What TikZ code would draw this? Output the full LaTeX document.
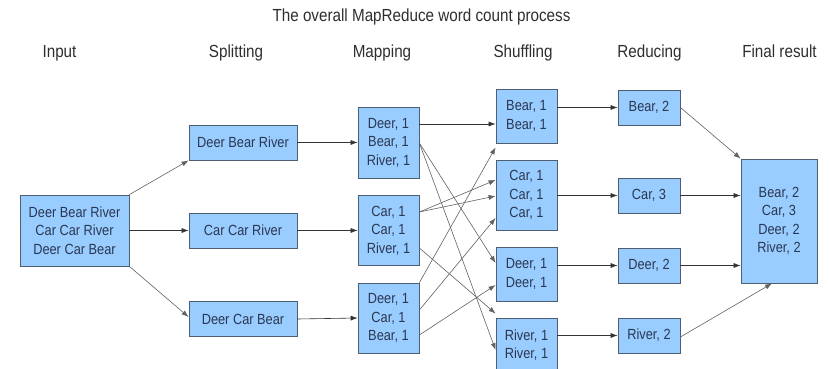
\documentclass[tikz,border=0pt]{standalone}
\usepackage{fontspec}
\setmainfont{Liberation Sans}[FakeStretch=0.87]
\usetikzlibrary{arrows.meta,calc}
\definecolor{boxfill}{HTML}{99CCFF}
\definecolor{boxdraw}{HTML}{4E5F72}
\definecolor{boxtext}{HTML}{2A3752}
\definecolor{headtext}{HTML}{2E2E2E}
\begin{document}
\begin{tikzpicture}[x=1pt,y=-1pt,
  box/.style={draw=boxdraw,fill=boxfill,line width=0.8pt,text=boxtext,align=center,
    inner sep=0pt,font=\fontsize{14.7}{18.5}\selectfont},
  head/.style={anchor=base,text=headtext,inner sep=0pt,font=\fontsize{17.5}{20}\selectfont},
  conn/.style={-{Latex[length=7pt,width=5pt]},line width=0.6pt,draw=black!80},
  diag/.style={conn,draw=black!62}]
\useasboundingbox (0,0) rectangle (829,369);
\node[head] (title) at (421.5,22) {The overall MapReduce word count process};
\node[head] (hin) at (59.5,58) {Input};
\node[head] (hsp) at (236,58) {Splitting};
\node[head] (hmap) at (382,58) {Mapping};
\node[head] (hsh) at (523,58) {Shuffling};
\node[head] (hred) at (649.5,58) {Reducing};
\node[head] (hfin) at (779.5,58) {Final result};
% input
\node[box,minimum width=109pt,minimum height=71pt] (in) at (74.5,230.5) {Deer Bear River\\Car Car River\\Deer Car Bear};
% splitting
\node[box,minimum width=108pt,minimum height=35pt] (s1) at (243,142.5) {Deer Bear River};
\node[box,minimum width=108pt,minimum height=35pt] (s2) at (243,230.5) {Car Car River};
\node[box,minimum width=108pt,minimum height=35pt] (s3) at (243,319) {Deer Car Bear};
% mapping
\node[box,minimum width=61pt,minimum height=71pt] (m1) at (388.5,142.5) {Deer, 1\\Bear, 1\\River, 1};
\node[box,minimum width=61pt,minimum height=70pt] (m2) at (388.5,230.5) {Car, 1\\Car, 1\\River, 1};
\node[box,minimum width=61pt,minimum height=70pt] (m3) at (388.5,318) {Deer, 1\\Car, 1\\Bear, 1};
% shuffling
\node[box,minimum width=61pt,minimum height=54pt] (h1) at (526.5,116) {Bear, 1\\Bear, 1};
\node[box,minimum width=61pt,minimum height=70pt] (h2) at (526.5,195) {Car, 1\\Car, 1\\Car, 1};
\node[box,minimum width=61pt,minimum height=54pt] (h3) at (526.5,274) {Deer, 1\\Deer, 1};
\node[box,minimum width=61pt,minimum height=54pt] (h4) at (526.5,345) {River, 1\\River, 1};
% reducing
\node[box,minimum width=62pt,minimum height=35pt] (r1) at (649,107.5) {Bear, 2};
\node[box,minimum width=62pt,minimum height=35pt] (r2) at (649,195.5) {Car, 3};
\node[box,minimum width=62pt,minimum height=35pt] (r3) at (649,265.5) {Deer, 2};
\node[box,minimum width=62pt,minimum height=35pt] (r4) at (649,335.5) {River, 2};
% final
\node[box,minimum width=76pt,minimum height=124pt] (f) at (779,221) {Bear, 2\\Car, 3\\Deer, 2\\River, 2};
% input -> splitting
\draw[diag] (in.north east) -- (s1.south west);
\draw[conn] (in.east) -- (s2.west);
\draw[diag] (in.south east) -- ([yshift=2pt]s3.west);
% splitting -> mapping
\draw[conn] (s1.east) -- (m1.west);
\draw[conn] (s2.east) -- (m2.west);
\draw[conn] (s3.east) -- (m3.west);
% mapping -> shuffling
\draw[conn] ([yshift=18.5pt]m1.east) -- ([yshift=-8pt]h1.west);
\draw[diag] ([yshift=-0.5pt]m1.east) -- ([yshift=11pt]h3.west);
\draw[diag] ([yshift=-0.5pt]m1.east) -- ([yshift=-5pt]h4.west);
\draw[diag] ([yshift=18.5pt]m2.east) -- ([yshift=15pt]h2.west);
\draw[diag] ([yshift=18.5pt]m2.east) -- ([yshift=-1pt]h2.west);
\draw[diag] ([yshift=-17.5pt]m2.east) -- ([yshift=4pt]h4.north west);
\draw[diag] (m3.north east) -- ([yshift=-4pt]h1.south west);
\draw[diag] ([yshift=8pt]m3.east) -- ([yshift=-23pt]h2.west);
\draw[diag] ([yshift=-17pt]m3.east) -- ([yshift=-11pt]h3.west);
% shuffling -> reducing
\draw[conn] (h1.east |- r1.west) -- (r1.west);
\draw[conn] (h2.east |- r2.west) -- (r2.west);
\draw[conn] (h3.east |- r3.west) -- (r3.west);
\draw[conn] (h4.east |- r4.west) -- (r4.west);
% reducing -> final
\draw[diag] (r1.east) -- (f.north west);
\draw[conn] (r2.east) -- (f.west |- r2.east);
\draw[conn] (r3.east) -- (f.west |- r3.east);
\draw[diag] ([yshift=-1.5pt]r4.east) -- ([xshift=-7pt]f.south);
\end{tikzpicture}
\end{document}
